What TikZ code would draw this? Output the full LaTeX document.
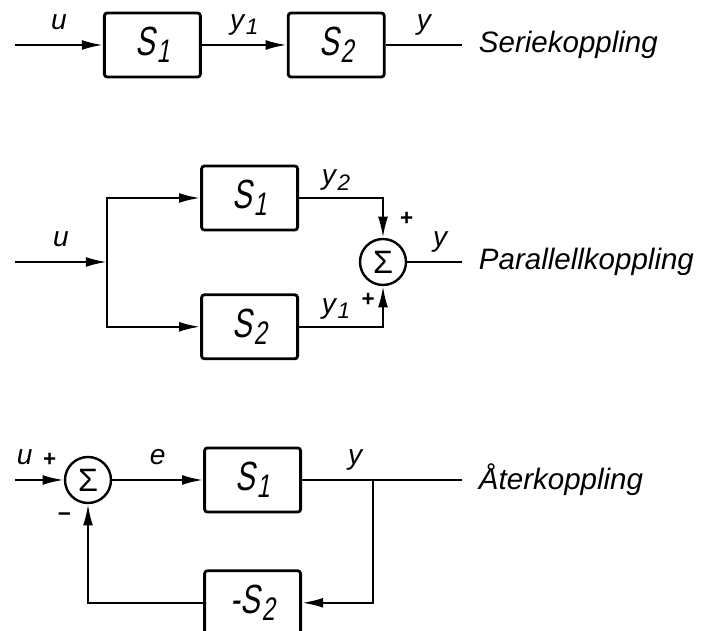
\documentclass[tikz,border=0pt]{standalone}
\usepackage{fontspec}
\usepackage{graphicx}
\setmainfont{Liberation Sans}
\newfontfamily\blockfont{Liberation Sans}[FakeStretch=0.72, FakeSlant=0.18]
\usetikzlibrary{positioning, arrows.meta}

\newcommand{\idx}[1]{\kern1.2pt\raisebox{-0.35ex}{\scalebox{0.8}{#1}}}

\begin{document}
\begin{tikzpicture}[
      block/.style={draw, line width=2pt, rounded corners=2pt,
                    minimum width=2.4cm, minimum height=1.6cm, inner sep=2pt,
                    font=\blockfont\fontsize{29}{31}\selectfont},
      sumnode/.style={draw, circle, line width=1.7pt, minimum size=1.15cm,
                      inner sep=0pt, font=\fontsize{23}{25}\selectfont},
      wire/.style={line width=1.6pt},
      arrow/.style={wire, -{Latex[length=15pt, width=7pt]}},
      sig/.style={font=\itshape\fontsize{20}{22}\selectfont, inner sep=2pt,
                  text depth=0.25em},
      title/.style={font=\itshape\fontsize{21}{24}\selectfont},
      sign/.style={font=\bfseries\fontsize{16}{16}\selectfont, inner sep=0pt}]
    \useasboundingbox (0,0) rectangle (17.975,15.775);

    % Seriekoppling
    \node[block] (s1) at (3.81,14.65) {S\idx{1}};
    \node[block, right=2.125cm of s1] (s2) {S\idx{2}};
    \coordinate (sin) at (0.375,14.65);
    \coordinate (sout) at (11.55,14.65);
    \draw[arrow] (sin) -- node[sig, above=6pt] {u} (s1);
    \draw[arrow] (s1) -- node[sig, above=6pt] {y\idx{1}} (s2);
    \draw[wire] (s2) -- node[sig, above=6pt] {y} (sout);
    \node[title, right=0.3cm of sout] (serie) {Seriekoppling};

    % Parallellkoppling
    \node[block] (p1) at (6.24,10.825) {S\idx{1}};
    \node[block, below=1.55cm of p1] (p2) {S\idx{2}};
    \node[sumnode] (psum) at (9.575,9.225) {Σ};
    \coordinate (pin) at (0.375,9.225);
    \coordinate (pjoin) at (2.675,9.225);
    \coordinate (pout) at (11.55,9.225);
    \draw[arrow] (pin) -- node[sig, above=6pt] {u} (pjoin);
    \draw[arrow] (pjoin) |- (p1);
    \draw[arrow] (pjoin) |- (p2);
    \draw[arrow] (p1) -| node[sig, above=4pt, pos=0.22] {y\idx{2}} (psum);
    \draw[arrow] (p2) -| node[sig, above=4pt, pos=0.22] {y\idx{1}} (psum);
    \draw[wire] (psum) -- node[sig, above=6pt, pos=0.6] {y} (pout);
    \node[sign, above right=0.3cm and 0.42cm of psum.north] (pplus1) {+};
    \node[sign, below left=0.18cm and 0.2cm of psum.south] (pplus2) {+};
    \node[title, right=0.3cm of pout] (parallel) {Parallellkoppling};

    % Återkoppling
    \node[sumnode] (fsum) at (2.2,3.775) {Σ};
    \node[block, right=2.275cm of fsum] (f1) {S\idx{1}};
    \node[block, below=1.4cm of f1] (f2) {-S\idx{2}};
    \coordinate (fin) at (0.375,3.775);
    \coordinate (fjoin) at (9.325,3.775);
    \coordinate (fout) at (11.55,3.775);
    \draw[arrow] (fin) -- node[sig, above=6pt, pos=0.2] {u} (fsum);
    \draw[arrow] (fsum) -- node[sig, above=6pt] {e} (f1);
    \draw[wire] (f1) -- node[sig, above=6pt, pos=0.75] {y} (fjoin) -- (fout);
    \draw[arrow] (fjoin) |- (f2);
    \draw[arrow] (f2) -| (fsum);
    \node[sign, above left=0.32cm and 0.18cm of fsum.west] (fplus) {+};
    \node[sign, below left=0.2cm and 0.42cm of fsum.south] (fminus) {−};
    \node[title, right=0.3cm of fout] (feedback) {Återkoppling};
  \end{tikzpicture}
\end{document}
